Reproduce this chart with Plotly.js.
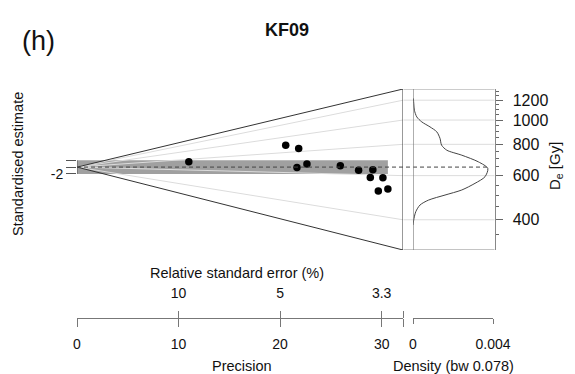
<!DOCTYPE html>
<html>
<head>
<meta charset="utf-8">
<script src="https://cdn.plot.ly/plotly-3.0.1.min.js"></script>
<style>html,body{margin:0;padding:0;background:#fff;}#plot{width:575px;height:374px;}</style>
</head>
<body>
<div id="plot"></div>
<script>
// ---- data ----
const precision = [11.01, 20.55, 21.83, 21.66, 22.64, 25.93, 27.73, 29.13, 28.88, 30.12, 29.67, 30.61];
const deValues  = [748, 889, 835, 646, 675, 659, 627, 632, 584, 585, 512, 525];
const centralDe = 649;
const deTicks = [400, 600, 800, 1000, 1200];
const deMinorTicks = [350, 450, 500, 550, 650, 700, 750, 850, 900, 950, 1050, 1100, 1150, 1250, 1300];
const deLimits = [303, 1330];
const precisionMax = 32.1;
const precisionTicks = [0, 10, 20, 30];
const rseTickLabels = ['10', '5', '3.3'];
const densityDe  = [1220, 1160, 1094, 1029, 983, 939, 897, 845, 794, 758, 724, 681, 641, 594, 559, 526, 502, 479, 458, 431, 405, 381];
const densityVal = [0.00002, 0.00004, 0.00007, 0.00019, 0.00044, 0.00085, 0.00119, 0.00135, 0.00143, 0.00169, 0.00244, 0.00327, 0.00374, 0.0036, 0.0031, 0.00244, 0.0016, 0.00077, 0.00035, 0.00014, 0.00005, 0.0];
const densityTicks = [0, 0.004];
const densityTickText = ['0', '0.004'];
const bandwidth = 0.078;

// ---- geometry helpers ----
const W = 575, H = 374;
const px = v => v / W, py = v => 1 - v / H;
const z0 = Math.log(centralDe);
const toStd = (de, p) => (Math.log(de) - z0) * p;
const yTop = toStd(deLimits[1], precisionMax);
const yBot = toStd(deLimits[0], precisionMax);

const F = 'Liberation Sans, Arial, sans-serif';
const dark = '#333', mid = '#777', light = '#dcdcdc';

const traces = [];
// light rays for De ticks
deTicks.forEach(d => {
  traces.push({x: [0, precisionMax], y: [0, toStd(d, precisionMax)], xaxis: 'x', yaxis: 'y',
    mode: 'lines', line: {color: light, width: 1}, hoverinfo: 'skip', showlegend: false});
});
// wedge outline
traces.push({x: [0, precisionMax, precisionMax, 0], y: [0, yTop, yBot, 0], xaxis: 'x', yaxis: 'y',
  mode: 'lines', line: {color: dark, width: 1}, hoverinfo: 'skip', showlegend: false});
// points
traces.push({x: precision, y: precision.map((p, i) => toStd(deValues[i], p)), xaxis: 'x', yaxis: 'y',
  mode: 'markers', marker: {color: '#000', size: 7.5}, showlegend: false});
// density curve
traces.push({x: densityVal, y: densityDe.map(d => toStd(d, precisionMax)), xaxis: 'x3', yaxis: 'y',
  mode: 'lines', line: {color: '#444', width: 1, shape: 'spline', smoothing: 0.8}, hoverinfo: 'skip', showlegend: false});
// invisible carriers so the overlaying axes get drawn
traces.push({x: [precisionMax / 2], y: [0], xaxis: 'x2', yaxis: 'y', mode: 'markers',
  marker: {opacity: 0}, hoverinfo: 'skip', showlegend: false});
traces.push({x: [precisionMax / 2], y: [centralDe], xaxis: 'x', yaxis: 'y2', mode: 'markers',
  marker: {opacity: 0}, hoverinfo: 'skip', showlegend: false});
traces.push({x: [precisionMax / 2], y: [centralDe], xaxis: 'x', yaxis: 'y3', mode: 'markers',
  marker: {opacity: 0}, hoverinfo: 'skip', showlegend: false});

const x3Dom = [px(413), px(493)];
const peak = Math.max(...densityVal);
const peakPaper = x3Dom[0] + (peak / densityTicks[1]) * (x3Dom[1] - x3Dom[0]);
const wedgeEnd = px(403.5), axRight = px(494.5);

const shapes = [
  // 2-sigma band
  {type: 'rect', xref: 'x', yref: 'y', x0: 0, x1: Math.max(...precision), y0: -2, y1: 2,
   fillcolor: '#a0a0a0', line: {width: 0}, layer: 'below'},
  // left axis segment
  {type: 'line', xref: 'x', yref: 'y', x0: 0, x1: 0, y0: -2, y1: 2, line: {color: '#555', width: 1}},
  // central dashed line
  {type: 'line', xref: 'paper', yref: 'y', x0: px(77), x1: peakPaper, y0: 0, y1: 0,
   line: {color: '#444', width: 1, dash: '4px,3px'}},
  // density panel frame
  {type: 'line', xref: 'paper', yref: 'y', x0: wedgeEnd, x1: axRight, y0: yTop, y1: yTop, line: {color: '#999', width: 1}},
  {type: 'line', xref: 'paper', yref: 'y', x0: wedgeEnd, x1: axRight, y0: yBot, y1: yBot, line: {color: '#888', width: 1}},
  {type: 'line', xref: 'x3', yref: 'y', x0: 0, x1: 0, y0: yBot, y1: yTop, line: {color: mid, width: 1.2}}
];
deTicks.forEach(d => {
  const y = toStd(d, precisionMax);
  shapes.push({type: 'line', xref: 'paper', yref: 'y', x0: wedgeEnd, x1: axRight, y0: y, y1: y,
    line: {color: light, width: 1}, layer: 'below'});
});

const tf = {family: F, size: 14, color: '#111'};
const titleF = {family: F, size: 14.5, color: '#111'};
const axBase = {showgrid: false, zeroline: false, fixedrange: true};
const yDom = [py(250), py(89)];

const layout = {
  width: W, height: H, margin: {l: 0, r: 0, t: 0, b: 0},
  paper_bgcolor: '#fff', plot_bgcolor: 'rgba(0,0,0,0)', showlegend: false,
  font: {family: F, color: '#111'},
  xaxis: Object.assign({}, axBase, {domain: [px(77), px(403)], range: [0, precisionMax],
    anchor: 'free', position: py(317.5), showline: true, linecolor: mid, linewidth: 1,
    ticks: 'outside', ticklen: 8, tickcolor: mid, tickvals: precisionTicks.concat([precisionMax]),
    ticktext: precisionTicks.map(String).concat(['']), tickfont: tf, ticklabelstandoff: 6}),
  xaxis2: Object.assign({}, axBase, {overlaying: 'x', side: 'top', range: [0, precisionMax],
    anchor: 'free', position: py(317.5), showline: false,
    ticks: 'outside', ticklen: 7, tickcolor: mid,
    tickvals: rseTickLabels.map(r => Math.round(100 / parseFloat(r))).concat([precisionMax]),
    ticktext: rseTickLabels.concat(['']), tickfont: tf, ticklabelstandoff: 7}),
  xaxis3: Object.assign({}, axBase, {domain: x3Dom, range: [0, densityTicks[1]],
    anchor: 'free', position: py(318), showline: true, linecolor: mid, linewidth: 1,
    ticks: 'outside', ticklen: 5, tickcolor: mid, tickvals: densityTicks, ticktext: densityTickText,
    tickfont: tf, ticklabelstandoff: 8}),
  yaxis: Object.assign({}, axBase, {domain: yDom, range: [yBot, yTop], anchor: 'x',
    showline: false, ticks: 'outside', ticklen: 10, tickcolor: '#555',
    tickvals: [-2, 0, 2], ticktext: ['-2', '', ''], tickfont: tf}),
  yaxis2: Object.assign({}, axBase, {overlaying: 'y', side: 'right', anchor: 'free', position: axRight,
    type: 'log', range: [Math.log10(deLimits[0]), Math.log10(deLimits[1])],
    showline: true, linecolor: '#888', linewidth: 1, ticks: 'outside', ticklen: 7, tickcolor: '#666',
    tickvals: deTicks, ticktext: deTicks.map(String), tickfont: {family: F, size: 16, color: '#111'},
    ticklabelstandoff: 7}),
  yaxis3: Object.assign({}, axBase, {overlaying: 'y', side: 'right', anchor: 'free', position: axRight,
    type: 'log', range: [Math.log10(deLimits[0]), Math.log10(deLimits[1])],
    showline: false, ticks: 'outside', ticklen: 3.5, tickcolor: '#666',
    tickvals: deMinorTicks, showticklabels: false}),
  shapes: shapes,
  annotations: [
    {text: '(h)', x: px(38), y: py(41), xref: 'paper', yref: 'paper', showarrow: false,
     xanchor: 'center', yanchor: 'middle', font: {family: F, size: 27, color: '#111'}},
    {text: '<b>KF09</b>', x: px(287), y: py(30), xref: 'paper', yref: 'paper', showarrow: false,
     xanchor: 'center', yanchor: 'middle', font: {family: F, size: 18, color: '#111'}},
    {text: 'Standardised estimate', x: px(18), y: py(164), xref: 'paper', yref: 'paper', showarrow: false,
     textangle: -90, xanchor: 'center', yanchor: 'middle', font: titleF},
    {text: 'Relative standard error (%)', x: px(237), y: py(273), xref: 'paper', yref: 'paper', showarrow: false,
     xanchor: 'center', yanchor: 'middle', font: titleF},
    {text: 'Precision', x: px(242), y: py(366), xref: 'paper', yref: 'paper', showarrow: false,
     xanchor: 'center', yanchor: 'middle', font: titleF},
    {text: 'Density (bw ' + bandwidth + ')', x: px(453), y: py(366), xref: 'paper', yref: 'paper', showarrow: false,
     xanchor: 'center', yanchor: 'middle', font: titleF},
    {text: 'D<sub>e</sub> [Gy]', x: px(555), y: py(166), xref: 'paper', yref: 'paper', showarrow: false,
     textangle: -90, xanchor: 'center', yanchor: 'middle', font: {family: F, size: 15, color: '#111'}}
  ]
};

Plotly.newPlot('plot', traces, layout, {staticPlot: true, displayModeBar: false});
</script>
</body>
</html>
